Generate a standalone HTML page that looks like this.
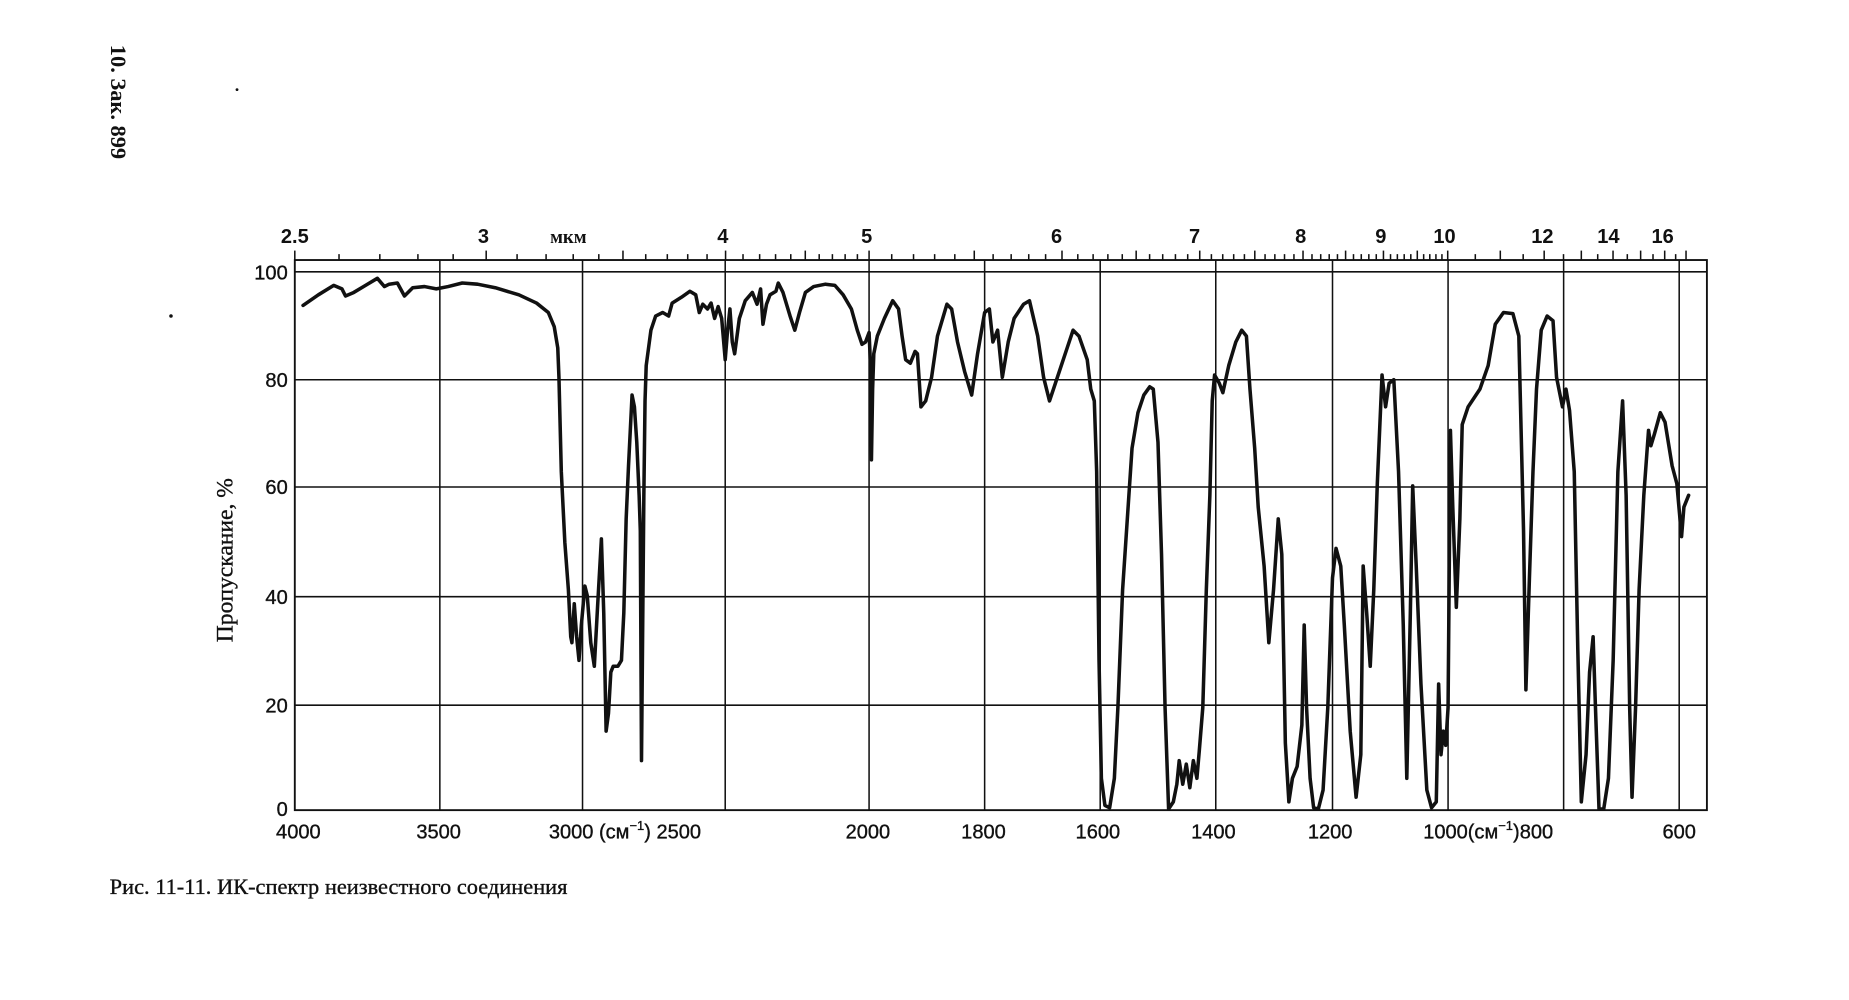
<!DOCTYPE html>
<html><head><meta charset="utf-8"><style>
html,body{margin:0;padding:0;background:#fff;}
svg{display:block}
text{font-family:"Liberation Sans",sans-serif;fill:#111}
.s{font-family:"Liberation Serif",serif}
</style></head><body>
<svg id="c" width="1849" height="1000" viewBox="0 0 1568 848" preserveAspectRatio="none">
<rect width="1568" height="848" fill="#fff"/>
<g stroke="#111" stroke-width="1.3" fill="none">
<rect x="250" y="220.5" width="1197.5" height="466.5" stroke-width="1.6"/>
<line x1="250" y1="230.5" x2="1447.5" y2="230.5"/>
<line x1="250" y1="322" x2="1447.5" y2="322"/>
<line x1="250" y1="413" x2="1447.5" y2="413"/>
<line x1="250" y1="506" x2="1447.5" y2="506"/>
<line x1="250" y1="598" x2="1447.5" y2="598"/>
<line x1="373" y1="220.5" x2="373" y2="687"/>
<line x1="494" y1="220.5" x2="494" y2="687"/>
<line x1="615" y1="220.5" x2="615" y2="687"/>
<line x1="737" y1="220.5" x2="737" y2="687"/>
<line x1="835" y1="220.5" x2="835" y2="687"/>
<line x1="933" y1="220.5" x2="933" y2="687"/>
<line x1="1031" y1="220.5" x2="1031" y2="687"/>
<line x1="1130" y1="220.5" x2="1130" y2="687"/>
<line x1="1228" y1="220.5" x2="1228" y2="687"/>
<line x1="1326" y1="220.5" x2="1326" y2="687"/>
<line x1="1424" y1="220.5" x2="1424" y2="687"/>
</g>
<g id="ticks" stroke="#111" stroke-width="1.3"></g>
<polyline fill="none" stroke="#111" stroke-width="3" stroke-linejoin="round" stroke-linecap="round" points="
257,259 270,250 283,242 290,245 293,251 300,248 310,242 320,236 326,243 330,241 337,240 343,251 350,244 360,243 370,245 380,243 392,240 405,241 420,244 440,250 455,257 465,265 470,277 473,295 474,320 476,400 479,460 482,500 484,540 485,545 487,512 489,540 491,560 493,530 496,497 498,505 501,545 504,565 507,510 510,457 512,520 514,620 516,605 518,570 520,565 524,565 527,560 529,520 531,440 533,395 536,335 538,345 540,375 542,420 543,450 544,645 546,420 547,340 548,310 552,280 556,268 562,265 567,268 570,257 578,252 585,247 590,250 593,265 596,258 600,262 603,257 606,270 609,260 612,270 615,305 617,280 619,262 621,290 623,300 627,270 632,255 638,248 642,258 645,245 647,275 650,258 653,250 658,247 660,240 664,248 670,268 674,280 678,265 683,248 690,243 700,241 708,242 715,250 722,262 727,280 731,292 734,290 737,282 738,305 739,390 740,330 741,300 744,285 750,270 757,255 762,262 765,285 768,305 772,308 776,298 778,300 781,345 785,340 790,320 795,285 803,258 807,262 812,290 818,315 824,335 829,300 835,265 839,262 842,290 846,280 850,320 855,290 860,270 868,258 873,255 880,285 885,320 890,340 895,325 900,310 905,295 910,280 915,285 922,305 925,330 928,340 930,400 932,560 934,660 937,683 941,685 945,660 948,600 952,500 956,440 960,380 965,350 970,335 975,328 978,330 982,375 985,470 988,600 991,686 995,680 998,665 1000,645 1003,665 1006,648 1009,668 1012,645 1015,660 1017,637 1020,600 1023,500 1026,420 1028,340 1030,318 1034,325 1037,333 1042,310 1048,290 1053,280 1057,285 1060,330 1064,380 1067,430 1072,480 1076,545 1080,500 1084,440 1087,470 1090,630 1093,680 1096,660 1100,650 1104,615 1106,530 1108,600 1111,660 1114,685 1118,686 1122,670 1126,600 1130,490 1133,465 1137,480 1140,530 1145,620 1150,676 1154,640 1156,480 1159,520 1162,565 1165,500 1168,410 1172,318 1175,345 1178,325 1182,322 1186,400 1190,530 1193,660 1196,520 1198,412 1201,480 1205,580 1210,670 1214,685 1218,680 1220,580 1222,640 1224,620 1226,632 1228,600 1230,365 1232,430 1235,515 1238,440 1240,360 1245,345 1255,330 1262,310 1268,275 1275,265 1283,266 1288,285 1292,450 1294,585 1297,490 1300,400 1303,330 1307,280 1312,268 1317,272 1320,320 1325,345 1328,330 1331,348 1335,400 1338,550 1341,680 1345,640 1348,570 1351,540 1353,600 1356,686 1360,686 1364,660 1368,560 1372,400 1376,340 1379,420 1382,600 1384,676 1387,600 1390,500 1394,420 1398,365 1400,378 1403,368 1408,350 1412,358 1418,395 1422,410 1426,455 1428,430 1432,420"/>
<g font-size="17" font-weight="bold" text-anchor="middle">
<text x="250" y="206">2.5</text><text x="410" y="206">3</text>
<text x="482" y="206" class="s" font-size="16">мкм</text>
<text x="613" y="206">4</text><text x="735" y="206">5</text><text x="896" y="206">6</text>
<text x="1013" y="206">7</text><text x="1103" y="206">8</text><text x="1171" y="206">9</text>
<text x="1225" y="206">10</text><text x="1308" y="206">12</text><text x="1364" y="206">14</text><text x="1410" y="206">16</text>
</g>
<g font-size="17" text-anchor="end" stroke="#111" stroke-width="0.3">
<text x="244" y="237">100</text><text x="244" y="328">80</text><text x="244" y="419">60</text>
<text x="244" y="512">40</text><text x="244" y="604">20</text><text x="244" y="692">0</text>
</g>
<g font-size="17" text-anchor="middle" stroke="#111" stroke-width="0.3">
<text x="253" y="711">4000</text><text x="372" y="711">3500</text>
<text x="530" y="711">3000 (см<tspan font-size="11" dy="-7">−1</tspan><tspan dy="7">) 2500</tspan></text>
<text x="736" y="711">2000</text><text x="834" y="711">1800</text><text x="931" y="711">1600</text>
<text x="1029" y="711">1400</text><text x="1128" y="711">1200</text>
<text x="1262" y="711">1000(см<tspan font-size="11" dy="-7">−1</tspan><tspan dy="7">)800</tspan></text>
<text x="1424" y="711">600</text>
</g>
<text class="s" font-size="20" text-anchor="middle" stroke="#111" stroke-width="0.3" transform="translate(197,475) rotate(-90)">Пропускание, %</text>
<text class="s" font-size="19" stroke="#111" stroke-width="0.3" x="93" y="758">Рис. 11-11.  ИК-спектр неизвестного соединения</text>
<text class="s" font-size="19" font-weight="bold" transform="translate(94,38) rotate(90)">10. Зак. 899</text>
<circle cx="201" cy="76" r="1.2" fill="#111"/><circle cx="145" cy="268" r="1.5" fill="#111"/>
</svg>
<script>
(function(){
var g=document.getElementById('ticks');
function X(w){return w>=2000?250+(4000-w)*487/2000:737+(2000-w)*687/1400;}
var s='';
function add(u,l){var x=X(10000/u);if(x>1446)return;s+='<line x1="'+x.toFixed(1)+'" x2="'+x.toFixed(1)+'" y1="220.5" y2="'+(220.5-l)+'"/>';}
for(var i=25;i<=100;i++){add(i/10,(i%10==0||i%10==5)?8:5);}
for(var u=10.5;u<=17;u+=0.5){add(u,(u%1==0)?8:5);}
g.innerHTML=s;
})();
</script>
</body></html>
